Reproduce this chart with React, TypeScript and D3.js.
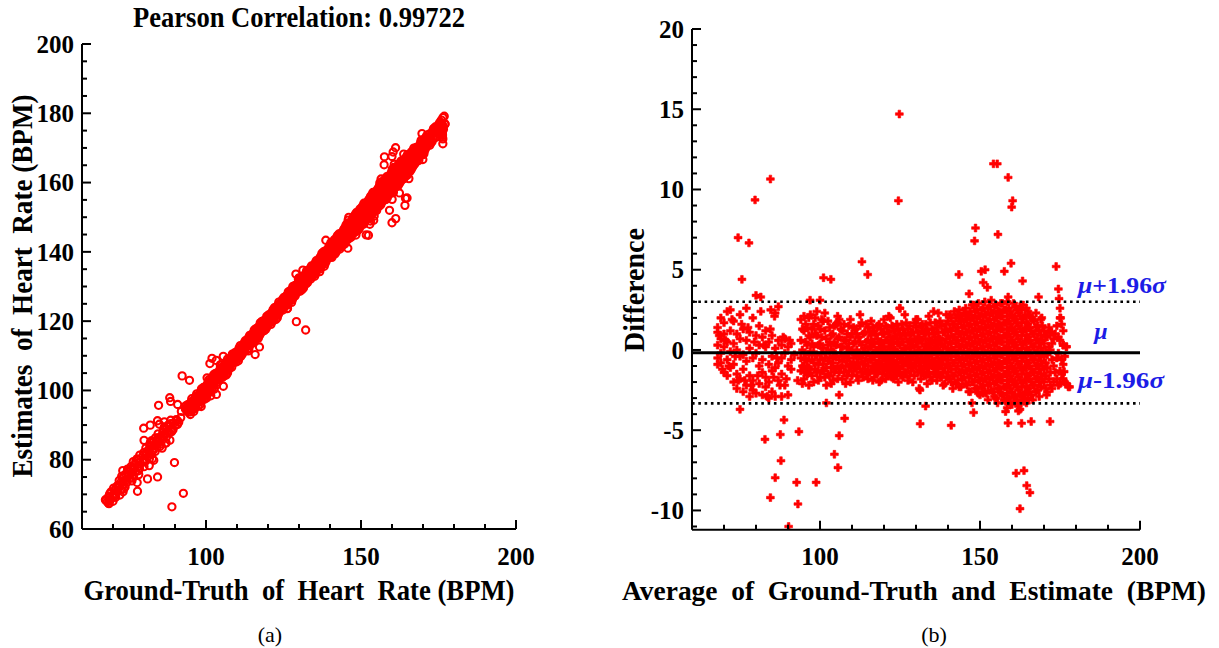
import React from "react";
import * as d3 from "d3";

// ---------------- DATA ----------------
// Bland-Altman space: average of ground truth & estimate, and difference (GT - Estimate)
const AVG_START = 68; // first column's average (BPM); one column per BPM
const DIFF_COLUMNS: number[][] = [
  [1.4, 1.1, 0.3, -0.5, -0.9], // 68
  [2.0, 0.7, -0.2, -0.8],
  [1.7, 1.0, 0.2, -1.4],
  [2.4, 0.5, -0.6, -1.6],
  [2.5, 1.2, -0.1, -1.1],
  [1.8, 0.4, -0.9, -2.0],
  [1.0, 0.0, -1.5, -2.4],
  [2.2, 0.7, -0.4, -1.8],
  [1.3, -0.3, -1.2, -2.6],
  [2.6, 0.6, -0.7, -2.2],
  [1.1, 0.1, -1.6, -2.9], // 78
  [2.0, -0.5, -1.9, -2.5],
  [3.4, 0.9, -0.2, -2.7],
  [1.5, 0.3, -1.0, -2.1],
  [0.8, -0.6, -1.4, -2.8],
  [1.2, 0.2, -1.7, -2.3],
  [0.5, -0.9, -2.0, -3.0],
  [0.9, -0.4, -1.3, -2.6],
  [2.3, 0.1, -1.1, -2.9],
  [2.7, 0.6, -0.8, -1.9],
  [0.3, -0.5, -1.5, -2.9], // 88
  [0.7, -0.2, -2.2],
  [0.2, -1.0, -2.8],
  [0.4, -0.6, -1.2],
  [-0.3],
  [-1.9],
  [1.9, 0.6, -0.5, -1.3],
  [2.1, 1.2, -0.2, -1.0, -1.8],
  [1.4, 0.3, -0.7, -1.5],
  [2.2, 0.8, -0.1, -1.2],
  [1.6, 0.2, -0.8, -2.0], // 98
  [0.9, -0.3, -1.4, 2.4],
  [1.3, 0.4, -0.6, -1.7],
  [1.8, 0.1, -0.9, -1.3],
  [0.7, -0.2, -1.1, -2.2],
  [1.4, 0.5, -0.5, -1.6],
  [1.0, -0.1, -0.8, -1.9],
  [1.6, 0.3, -0.4, -1.2],
  [0.8, -0.6, -1.4, 1.9],
  [1.2, 0.2, -0.7, -1.8],
  [0.6, -0.3, -1.0, -2.1], // 108
  [1.5, 0.4, -0.5, -1.3],
  [1.0, 0.0, -0.9, -1.6],
  [1.3, 0.5, -0.3, -1.1],
  [0.8, -0.2, -0.8, -1.9],
  [1.7, 0.3, -0.5, -1.4],
  [1.1, 0.1, -0.7, -1.2],
  [1.4, 0.6, -0.2, -1.0, -1.8],
  [0.9, 0.2, -0.6, -1.3, 1.8],
  [1.2, 0.4, -0.4, -1.1, -1.7],
  [0.7, 0.0, -0.8, -1.4, 1.5], // 118
  [1.3, 0.5, -0.3, -1.0, -1.9],
  [1.0, 0.2, -0.5, -1.2, 1.9],
  [1.4, 0.6, -0.2, -0.9, -1.6],
  [0.8, 0.1, -0.7, -1.3, 2.0],
  [1.2, 0.4, -0.4, -1.1, -1.8],
  [1.6, 0.7, -0.1, -0.8, -1.5],
  [1.0, 0.3, -0.5, -1.2, 2.6],
  [1.3, 0.5, -0.3, -1.0, -1.7],
  [0.9, 0.1, -0.6, -1.4, 1.7],
  [1.5, 0.6, -0.2, -0.9, -1.6], // 128
  [1.1, 0.3, -0.4, -1.1, -2.0],
  [1.4, 0.5, -0.3, -1.0, 1.9],
  [0.8, 0.0, -0.7, -1.3, -2.4],
  [1.2, 0.4, -0.5, -1.2, 1.6],
  [1.6, 0.7, -0.1, -0.8, -1.6],
  [1.0, 0.2, -0.6, -1.4, 2.1],
  [1.3, 0.5, -0.3, -1.0, -1.9],
  [1.7, 0.8, 0.0, -0.7, -1.5],
  [1.1, 0.3, -0.5, -1.2, 2.3],
  [1.5, 0.6, -0.2, -0.9, -1.7], // 138
  [1.2, 0.4, -0.4, -1.1, -2.1],
  [1.8, 0.9, 0.1, -0.6, -1.4],
  [2.0, 1.2, 0.4, -0.4, -1.2, -2.0],
  [1.6, 0.8, 0.0, -0.8, -1.6, 2.4],
  [2.2, 1.4, 0.6, -0.2, -1.0, -1.9],
  [1.8, 1.0, 0.2, -0.6, -1.4, -2.3],
  [2.3, 1.5, 0.7, -0.1, -0.9, -1.7],
  [1.9, 1.1, 0.3, -0.5, -1.3, -2.2],
  [2.4, 1.6, 0.8, 0.0, -0.8, -1.6, -2.6],
  [2.0, 1.2, 0.4, -0.4, -1.2, -2.0, 2.8], // 148
  [2.5, 1.7, 0.9, 0.1, -0.7, -1.5, -2.4],
  [2.1, 1.3, 0.5, -0.3, -1.1, -1.9, -2.8],
  [2.6, 1.8, 1.0, 0.2, -0.6, -1.4, -2.2],
  [2.2, 1.4, 0.6, -0.2, -1.0, -1.8, -2.7],
  [2.7, 1.9, 1.1, 0.3, -0.5, -1.3, -2.1],
  [2.3, 1.5, 0.7, -0.1, -0.9, -1.7, -2.6],
  [2.8, 2.0, 1.2, 0.4, -0.4, -1.2, -2.0, -3.0],
  [2.4, 1.6, 0.8, 0.0, -0.8, -1.6, -2.4],
  [2.9, 2.1, 1.3, 0.5, -0.3, -1.1, -1.9, -2.8],
  [2.5, 1.7, 0.9, 0.1, -0.7, -1.5, -2.3, -3.2], // 158
  [2.6, 1.8, 1.0, 0.2, -0.6, -1.4, -2.2, -3.0],
  [2.2, 1.4, 0.6, -0.2, -1.0, -1.8, -2.6, -3.4],
  [2.7, 1.9, 1.1, 0.3, -0.5, -1.3, -2.1, -2.9],
  [2.3, 1.5, 0.7, -0.1, -0.9, -1.7, -2.5, -3.5],
  [2.5, 1.7, 0.9, 0.1, -0.7, -1.5, -2.3, -3.1],
  [2.1, 1.3, 0.5, -0.3, -1.1, -1.9, -2.7],
  [2.4, 1.6, 0.8, 0.0, -0.8, -1.6, -2.4, -3.0],
  [2.0, 1.2, 0.4, -0.4, -1.2, -2.0, -2.8],
  [1.8, 1.0, 0.2, -0.6, -1.4, -2.2],
  [1.5, 0.7, -0.1, -0.9, -1.7, -2.5], // 168
  [1.9, 0.9, 0.1, -0.7, -1.5, -2.3],
  [1.2, 0.4, -0.4, -1.2, -2.0],
  [0.8, -0.3, -1.1, -2.6],
  [1.1, 0.0, -1.4, -2.2],
  [0.7, -1.0, -2.0],
  [1.5, -0.5, -1.8],
  [2.0, 0.6, -1.3, -2.1],
  [1.2, 0.3, -0.9, -1.8],
  [0.2, -2.1],
  [-2.3], // 178
];

// in-between columns, average = HALF_START + index
const HALF_START = 68.5;
const DIFF_COLUMNS_HALF: number[][] = [
  [0.9], // 68.5
  [-1.2],
  [0.6],
  [-1.0],
  [1.9],
  [-0.4],
  [-1.9],
  [1.6],
  [-1.9],
  [1.4],
  [-2.2], // 78.5
  [0.5],
  [-1.6],
  [2.4],
  [0.3],
  [-2.9],
  [1.3],
  [-1.7],
  [-0.5],
  [-2.2],
  [0.8], // 88.5
  [-1.8],
  [0.6],
  [],
  [],
  [],
  [1.3, 0.0, -1.0, -2.1], // 94.5
  [1.6, 0.5, -0.6, -1.4],
  [2.0, 0.9, -0.3, -1.1, -2.2],
  [1.3, 0.4, -0.6, -1.6],
  [2.0, 1.0, -0.3, -1.2], // 98.5
  [1.5, 0.3, -0.9, -1.9],
  [1.9, 0.8, -0.2, -1.3],
  [1.2, -0.5, -1.7, 2.3],
  [1.8, 0.3, -0.7, -1.5],
  [0.9, 0.0, -1.1, -2.1],
  [1.5, 0.4, -0.4, -1.4],
  [2.1, 0.7, -1.0, -1.8],
  [1.3, 0.2, -0.2, -1.1],
  [1.6, 0.6, -0.4, -1.4],
  [1.0, 0.1, -0.7, -1.6], // 108.5
  [1.9, 0.8, -0.1, -1.0, -2.0],
  [1.4, 0.4, -0.5, -1.3],
  [1.0, 0.0, -0.8, -1.6],
  [1.5, 0.5, -0.4, -1.2, 2.2],
  [1.0, -0.1, -0.9, -1.7],
  [1.6, 0.5, -0.3, -1.5],
  [1.1, 0.2, -0.6, -1.4],
  [1.4, 0.5, -0.3, -1.0, -1.9],
  [1.0, 0.0, -0.8, -1.4],
  [1.6, 0.4, -0.4, -1.1, -2.0], // 118.5
  [1.0, 0.1, -0.7, -1.5],
  [1.5, 0.6, -0.2, -0.9, -1.8],
  [1.1, 0.2, -0.6, -1.3, 2.1],
  [1.5, 0.5, -0.3, -1.0, -1.7],
  [0.9, 0.0, -0.8, -1.4],
  [1.3, 0.4, -0.4, -1.1, -2.0],
  [1.6, 0.7, -0.1, -0.8, -1.6],
  [1.0, 0.1, -0.7, -1.4, 2.2],
  [1.3, 0.5, -0.3, -1.0, -1.9],
  [1.0, 0.2, -0.6, -1.3], // 128.5
  [1.7, 0.7, -0.1, -0.8, -1.6],
  [1.1, 0.2, -0.6, -1.4],
  [1.5, 0.6, -0.2, -1.0, -1.8],
  [1.0, 0.0, -0.8, -1.5],
  [1.3, 0.3, -0.4, -1.1, -2.1],
  [1.7, 0.6, -0.2, -0.9, -1.7],
  [1.0, 0.1, -0.7, -1.4, 2.4],
  [1.4, 0.4, -0.3, -1.1, -1.9],
  [1.8, 0.7, -0.1, -0.8, -1.6],
  [1.1, 0.2, -0.6, -1.4, -2.2], // 138.5
  [1.6, 0.7, -0.2, -0.9, -1.7, 2.2],
  [2.2, 1.3, 0.5, -0.2, -1.0, -1.8],
  [1.6, 0.8, 0.0, -0.8, -1.6, -2.4],
  [2.0, 1.2, 0.4, -0.4, -1.2, -2.1],
  [2.5, 1.8, 1.0, 0.2, -0.6, -1.4, -2.3],
  [2.1, 1.4, 0.6, -0.2, -1.0, -1.8],
  [2.6, 1.9, 1.1, 0.3, -0.5, -1.3, -2.1],
  [2.2, 1.5, 0.7, -0.1, -0.9, -1.7, -2.6],
  [2.8, 2.0, 1.2, 0.4, -0.4, -1.2, -2.0],
  [2.4, 1.6, 0.8, 0.0, -0.8, -1.6, -2.4], // 148.5
  [2.9, 2.1, 1.3, 0.5, -0.3, -1.1, -1.9, -2.7],
  [2.5, 1.7, 0.9, 0.1, -0.7, -1.5, -2.3],
  [3.0, 2.2, 1.4, 0.6, -0.2, -1.0, -1.8, -2.6],
  [2.6, 1.8, 1.0, 0.2, -0.6, -1.4, -2.2, -3.1],
  [3.1, 2.3, 1.5, 0.7, -0.1, -0.9, -1.7, -2.5],
  [2.7, 1.9, 1.1, 0.3, -0.5, -1.3, -2.1, -2.9],
  [2.4, 1.6, 0.8, 0.0, -0.8, -1.6, -2.4, -3.3],
  [2.9, 2.1, 1.3, 0.5, -0.3, -1.1, -1.9, -2.7],
  [2.5, 1.7, 0.9, 0.1, -0.7, -1.5, -2.3, -3.1],
  [3.0, 2.1, 1.3, 0.5, -0.3, -1.1, -1.9, -2.7, -3.6], // 158.5
  [2.4, 1.6, 0.8, 0.0, -0.8, -1.6, -2.4, -3.3],
  [2.9, 2.0, 1.2, 0.4, -0.4, -1.2, -2.0, -2.9],
  [2.5, 1.7, 0.9, 0.1, -0.7, -1.5, -2.3, -3.2],
  [2.1, 1.3, 0.5, -0.3, -1.1, -1.9, -2.8, -3.7],
  [2.8, 2.0, 1.2, 0.4, -0.4, -1.2, -2.0, -2.8],
  [2.6, 1.7, 0.9, 0.1, -0.7, -1.5, -2.3, -3.3],
  [2.2, 1.4, 0.6, -0.2, -1.0, -1.8, -2.6],
  [1.9, 1.0, 0.2, -0.6, -1.4, -2.2, -3.1],
  [2.3, 1.4, 0.6, -0.2, -1.0, -1.8, -2.6],
  [1.2, 0.4, -0.4, -1.2, -2.0, -2.9], // 168.5
  [1.5, 0.6, -0.2, -1.0, -1.8],
  [0.9, -0.1, -0.8, -1.6, -2.4],
  [1.4, 0.2, -1.8],
  [0.4, -0.6, -2.4],
  [1.0, -1.4],
  [0.8, -0.2, -2.2],
  [1.6, -0.6, -1.5],
  [-0.4, -2.0], // 176.5
];

// scattered points [average, difference]
const OUTLIERS: [number, number][] = [
  [124.8, 14.7], [124.5, 9.3], [84.5, 10.65], [79.7, 9.35], [74.4, 7.0], [77.8, 6.67],
  [75.6, 4.4], [154.2, 11.6], [155.4, 11.6], [158.8, 10.75], [160.2, 9.3], [159.9, 8.9],
  [155.6, 7.2], [148.6, 7.6], [148.3, 6.8], [173.8, 5.2], [113.1, 5.5], [114.9, 4.7],
  [101.1, 4.5], [103.4, 4.4], [143.4, 4.7], [157.6, 4.9], [151.6, 5.0], [150.4, 4.9],
  [152.3, 3.9], [151.0, 4.2], [159.7, 5.4], [163.3, 4.3], [174.5, 3.8], [168.3, 3.3],
  [158.8, 3.3], [174.7, 3.2], [81.5, 3.3], [84.6, 2.5], [85.8, 2.1], [96.9, 3.1],
  [100.0, 3.1], [124.9, 2.6], [130.5, 1.9], [105.6, 1.7], [146.6, 3.5], [175.0, 2.6],
  [175.2, 2.0], [162.5, 2.7], [169.3, 2.0], [176.0, 0.3], [177.0, 0.2], [172.4, 1.1],
  [82.8, -5.57], [87.6, -5.27], [93.4, -5.09], [106.0, -5.34], [104.5, -6.5], [105.6, -7.33],
  [87.8, -6.9], [86.0, -7.96], [92.7, -8.25], [98.8, -8.25], [84.5, -9.2], [93.1, -9.6],
  [90.2, -11.0], [98.25, -11.9], [161.3, -7.68], [163.75, -7.52], [164.6, -8.45],
  [165.6, -8.89], [162.5, -9.89], [141.0, -4.7], [158.75, -4.55], [163.0, -4.57],
  [166.0, -4.46], [171.9, -4.46], [158.0, -3.84], [162.0, -3.8], [163.75, -3.2],
  [75.0, -3.7], [88.75, -4.36], [107.7, -4.26], [106.0, -2.8], [102.0, -3.3],
  [131.25, -2.5], [133.0, -3.5], [147.5, -3.3], [148.0, -3.9], [151.0, -2.7],
  [170.8, -2.8], [177.6, -2.3], [176.3, -1.35], [131.3, -4.6],
  // beyond the difference axis (only visible in the correlation plot)
  [77.7, 22.6], [81.5, 22.4],
];

const MU = -0.17; // mean difference
const LOA_UPPER = 3.0; // mu + 1.96 sigma
const LOA_LOWER = -3.33; // mu - 1.96 sigma
const PEARSON_TEXT = "Pearson Correlation: 0.99722";

// ticks
const LEFT_X_LABELS = [100, 150, 200];
const LEFT_X_MINOR = [70, 80, 90, 110, 120, 130, 140, 160, 170, 180, 190];
const LEFT_Y_LABELS = [60, 80, 100, 120, 140, 160, 180, 200];
const LEFT_Y_MINOR = [65, 70, 75, 85, 90, 95, 105, 110, 115, 125, 130, 135, 145, 150, 155, 165, 170, 175, 185, 190, 195];
const RIGHT_X_LABELS = [100, 150, 200];
const RIGHT_X_MINOR = [70, 80, 90, 110, 120, 130, 140, 160, 170, 180, 190];
const RIGHT_Y_LABELS = [-10, -5, 0, 5, 10, 15, 20];
const RIGHT_Y_MINOR = [-11, -9, -8, -7, -6, -4, -3, -2, -1, 1, 2, 3, 4, 6, 7, 8, 9, 11, 12, 13, 14, 16, 17, 18, 19];

// ---------------- CHART ----------------
const RED = "#ff0000";
const BLUE = "#1c1ce6";
const FONT = "Liberation Serif, Times New Roman, serif";

type Pt = { avg: number; diff: number; gt: number; est: number };

const points: Pt[] = [
  ...DIFF_COLUMNS.flatMap((col, i) => col.map((d) => ({ avg: AVG_START + i, diff: d }))),
  ...DIFF_COLUMNS_HALF.flatMap((col, i) => col.map((d) => ({ avg: HALF_START + i, diff: d }))),
  ...OUTLIERS.map(([a, d]) => ({ avg: a, diff: d })),
].map((p) => ({ ...p, gt: p.avg + p.diff / 2, est: p.avg - p.diff / 2 }));

// bold title text, slightly stretched vertically like the original figure
function Title({ x, y, rotate = 0, width, size = 26, children }: { x: number; y: number; rotate?: number; width: number; size?: number; children: string }) {
  return (
    <text
      transform={`translate(${x},${y}) rotate(${rotate}) scale(1,1.12)`}
      textAnchor="middle"
      fontFamily={FONT}
      fontWeight={700}
      fontSize={size}
      textLength={width}
      lengthAdjust="spacingAndGlyphs"
      style={{ whiteSpace: "pre" }}
    >
      {children}
    </text>
  );
}

export default function App() {
  // left (correlation) scales
  const lx = d3.scaleLinear().domain([60, 200]).range([82, 516]);
  const ly = d3.scaleLinear().domain([60, 200]).range([529, 44]);
  // right (Bland-Altman) scales
  const rx = d3.scaleLinear().domain([60, 200]).range([692, 1140]);
  const ry = d3.scaleLinear().domain([-11.2, 20]).range([529.7, 29]);

  const cross = d3.symbol().type(d3.symbolCross).size(34)() as string;
  const axisStroke = { stroke: "#000", strokeWidth: 2, fill: "none" };
  const tickFont = { fontFamily: FONT, fontWeight: 700, fontSize: 25 } as const;

  const lx0 = lx(60), ly0 = ly(60);
  const rx0 = rx(60), ry0 = ry(-11.2);

  return (
    <svg width={1219} height={648} style={{ position: "absolute", left: 0, top: 0, background: "#fff" }}>
      <defs>
        <clipPath id="rclip">
          <rect x={rx0} y={ry(20)} width={rx(200) - rx0 + 10} height={ry0 - ry(20)} />
        </clipPath>
      </defs>

      {/* ============ LEFT: correlation plot ============ */}
      <Title x={299} y={27} width={332} size={26}>
        {PEARSON_TEXT}
      </Title>
      <g>
        {points.map((p, i) => (
          <circle key={i} cx={lx(p.gt)} cy={ly(p.est)} r={3.6} fill="none" stroke={RED} strokeWidth={2.1} />
        ))}
      </g>
      {/* axes */}
      <line x1={lx0} y1={ly0} x2={lx0} y2={ly(200)} {...axisStroke} />
      <line x1={lx0} y1={ly0} x2={lx(200)} y2={ly0} {...axisStroke} />
      {LEFT_Y_LABELS.map((v) => (
        <g key={"ly" + v}>
          <line x1={lx0} x2={lx0 + 9} y1={ly(v)} y2={ly(v)} {...axisStroke} />
          <text x={lx0 - 8} y={ly(v)} dy="0.35em" textAnchor="end" {...tickFont}>
            {v}
          </text>
        </g>
      ))}
      {LEFT_Y_MINOR.map((v) => (
        <line key={"lym" + v} x1={lx0} x2={lx0 + 5} y1={ly(v)} y2={ly(v)} {...axisStroke} />
      ))}
      {LEFT_X_LABELS.map((v) => (
        <g key={"lx" + v}>
          <line x1={lx(v)} x2={lx(v)} y1={ly0} y2={ly0 - 9} {...axisStroke} />
          <text x={lx(v)} y={565} textAnchor="middle" {...tickFont}>
            {v}
          </text>
        </g>
      ))}
      {LEFT_X_MINOR.map((v) => (
        <line key={"lxm" + v} x1={lx(v)} x2={lx(v)} y1={ly0} y2={ly0 - 5} {...axisStroke} />
      ))}
      <Title x={299} y={600} width={431}>
        {"Ground-Truth  of  Heart  Rate (BPM)"}
      </Title>
      <Title x={32} y={286} rotate={-90} width={383}>
        {"Estimates  of  Heart  Rate (BPM)"}
      </Title>
      <text x={270} y={642} textAnchor="middle" fontFamily={FONT} fontSize={22}>
        (a)
      </text>

      {/* ============ RIGHT: Bland-Altman plot ============ */}
      <g clipPath="url(#rclip)">
        {points.map((p, i) => (
          <path key={i} d={cross} transform={`translate(${rx(p.avg)},${ry(p.diff)})`} fill={RED} stroke={RED} strokeWidth={0.6} strokeLinejoin="round" />
        ))}
      </g>
      <line x1={rx0} x2={rx(200)} y1={ry(MU)} y2={ry(MU)} stroke="#000" strokeWidth={3} />
      <line x1={rx0} x2={rx(200)} y1={ry(LOA_UPPER)} y2={ry(LOA_UPPER)} stroke="#000" strokeWidth={2.6} strokeDasharray="2.6 3.7" />
      <line x1={rx0} x2={rx(200)} y1={ry(LOA_LOWER)} y2={ry(LOA_LOWER)} stroke="#000" strokeWidth={2.6} strokeDasharray="2.6 3.7" />
      {/* axes */}
      <line x1={rx0} y1={ry0} x2={rx0} y2={ry(20)} {...axisStroke} />
      <line x1={rx0} y1={ry0} x2={rx(200)} y2={ry0} {...axisStroke} />
      {RIGHT_Y_LABELS.map((v) => (
        <g key={"ry" + v}>
          <line x1={rx0} x2={rx0 + 9} y1={ry(v)} y2={ry(v)} {...axisStroke} />
          <text x={rx0 - 8} y={ry(v)} dy="0.35em" textAnchor="end" {...tickFont}>
            {v}
          </text>
        </g>
      ))}
      {RIGHT_Y_MINOR.map((v) => (
        <line key={"rym" + v} x1={rx0} x2={rx0 + 5} y1={ry(v)} y2={ry(v)} {...axisStroke} />
      ))}
      {RIGHT_X_LABELS.map((v) => (
        <g key={"rx" + v}>
          <line x1={rx(v)} x2={rx(v)} y1={ry0} y2={ry0 - 9} {...axisStroke} />
          <text x={rx(v)} y={565} textAnchor="middle" {...tickFont}>
            {v}
          </text>
        </g>
      ))}
      {RIGHT_X_MINOR.map((v) => (
        <line key={"rxm" + v} x1={rx(v)} x2={rx(v)} y1={ry0} y2={ry0 - 5} {...axisStroke} />
      ))}
      <Title x={914} y={600} width={584} size={25}>
        {"Average  of  Ground-Truth  and  Estimate  (BPM)"}
      </Title>
      <Title x={644} y={290} rotate={-90} width={124}>
        Difference
      </Title>
      {/* limit labels */}
      <text x={1078} y={293} fill={BLUE} fontFamily={FONT} fontWeight={700} fontSize={24} textLength={88} lengthAdjust="spacingAndGlyphs">
        <tspan fontStyle="italic">μ</tspan>+1.96<tspan fontStyle="italic">σ</tspan>
      </text>
      <text x={1101} y={339} textAnchor="middle" fill={BLUE} fontFamily={FONT} fontWeight={700} fontSize={24} fontStyle="italic">
        μ
      </text>
      <text x={1078} y={388} fill={BLUE} fontFamily={FONT} fontWeight={700} fontSize={24} textLength={86} lengthAdjust="spacingAndGlyphs">
        <tspan fontStyle="italic">μ</tspan>-1.96<tspan fontStyle="italic">σ</tspan>
      </text>
      <text x={934} y={642} textAnchor="middle" fontFamily={FONT} fontSize={22}>
        (b)
      </text>
    </svg>
  );
}
